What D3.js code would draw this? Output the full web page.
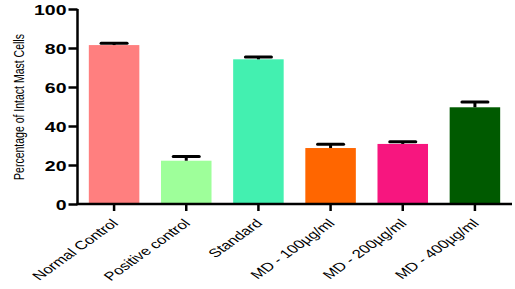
<!DOCTYPE html>
<html><head><meta charset="utf-8">
<script src="https://cdn.jsdelivr.net/npm/d3@7"></script>
<style>html,body{margin:0;padding:0;background:#fff;}svg{display:block;}</style>
</head><body>
<svg id="chart" width="515" height="289"></svg>
<script>
const categories = ["Normal Control","Positive control","Standard","MD - 100µg/ml","MD - 200µg/ml","MD - 400µg/ml"];
const values = [81.5, 22.2, 74.2, 28.7, 30.8, 49.6];
const errors = [0.9, 2.1, 1.2, 1.9, 1.1, 2.7];
const colors = ["#FF7F7F","#9EFF9A","#43F0B0","#FF6600","#F7167F","#005A00"];
const yTicks = [0,20,40,60,80,100];
const yLabel = "Percentage of Intact Mast Cells";

const svg = d3.select("#chart");
const font = "Arial, 'Liberation Sans', sans-serif";
const x = d3.scaleBand().domain(categories).range([78, 511]).paddingInner(0.3).paddingOuter(0.15);
const y = d3.scaleLinear().domain([0,100]).range([204, 9]);

// bars
svg.selectAll("rect.bar").data(categories).join("rect")
  .attr("class","bar")
  .attr("x", d => x(d))
  .attr("width", x.bandwidth())
  .attr("y", (d,i) => y(values[i]))
  .attr("height", (d,i) => y(0) - y(values[i]))
  .attr("fill", (d,i) => colors[i]);

// error bars
const eb = svg.selectAll("g.err").data(categories).join("g").attr("class","err");
eb.append("line")
  .attr("x1", d => x(d) + x.bandwidth()/2).attr("x2", d => x(d) + x.bandwidth()/2)
  .attr("y1", (d,i) => y(values[i])).attr("y2", (d,i) => y(values[i] + errors[i]))
  .attr("stroke","#000").attr("stroke-width",3);
eb.append("line")
  .attr("x1", d => x(d) + x.bandwidth()/2 - 13).attr("x2", d => x(d) + x.bandwidth()/2 + 13)
  .attr("y1", (d,i) => y(values[i] + errors[i])).attr("y2", (d,i) => y(values[i] + errors[i]))
  .attr("stroke","#000").attr("stroke-width",3).attr("stroke-linecap","round");

// y axis
const yAxis = svg.append("g").attr("transform","translate(77.5,0)")
  .call(d3.axisLeft(y).tickValues(yTicks).tickSize(9).tickFormat(d3.format("d")));
yAxis.select(".domain").attr("stroke","#000").attr("stroke-width",2.5).attr("d","M0,204.5V9");
yAxis.selectAll(".tick line").attr("stroke","#000").attr("stroke-width",2.5);
yAxis.selectAll(".tick text").each(function(){
  const t = d3.select(this);
  t.attr("x", null).attr("dy", null)
   .attr("transform","translate(-11,5.5) scale(1.3,1)")
   .attr("text-anchor","end")
   .attr("font-family", font).attr("font-weight","bold").attr("font-size",15).attr("fill","#000");
});

// x axis
const xAxis = svg.append("g").attr("transform","translate(0,204)")
  .call(d3.axisBottom(x).tickSize(7));
xAxis.select(".domain").attr("stroke","#000").attr("stroke-width",2.5).attr("d","M76.5,0H512");
xAxis.selectAll(".tick line").attr("stroke","#000").attr("stroke-width",2.5);
xAxis.selectAll(".tick text").each(function(){
  const t = d3.select(this);
  t.attr("y", null).attr("dy", null)
   .attr("transform","translate(5,20) scale(1.4,1) rotate(-45)")
   .attr("text-anchor","end")
   .attr("font-family", font).attr("font-size",12).attr("fill","#000");
});

// y label
svg.append("text")
  .attr("transform","translate(24,107) scale(1.4,1) rotate(-90)")
  .attr("text-anchor","middle")
  .attr("font-family", font).attr("font-size",10.5).attr("fill","#000")
  .text(yLabel);
</script>
</body></html>
